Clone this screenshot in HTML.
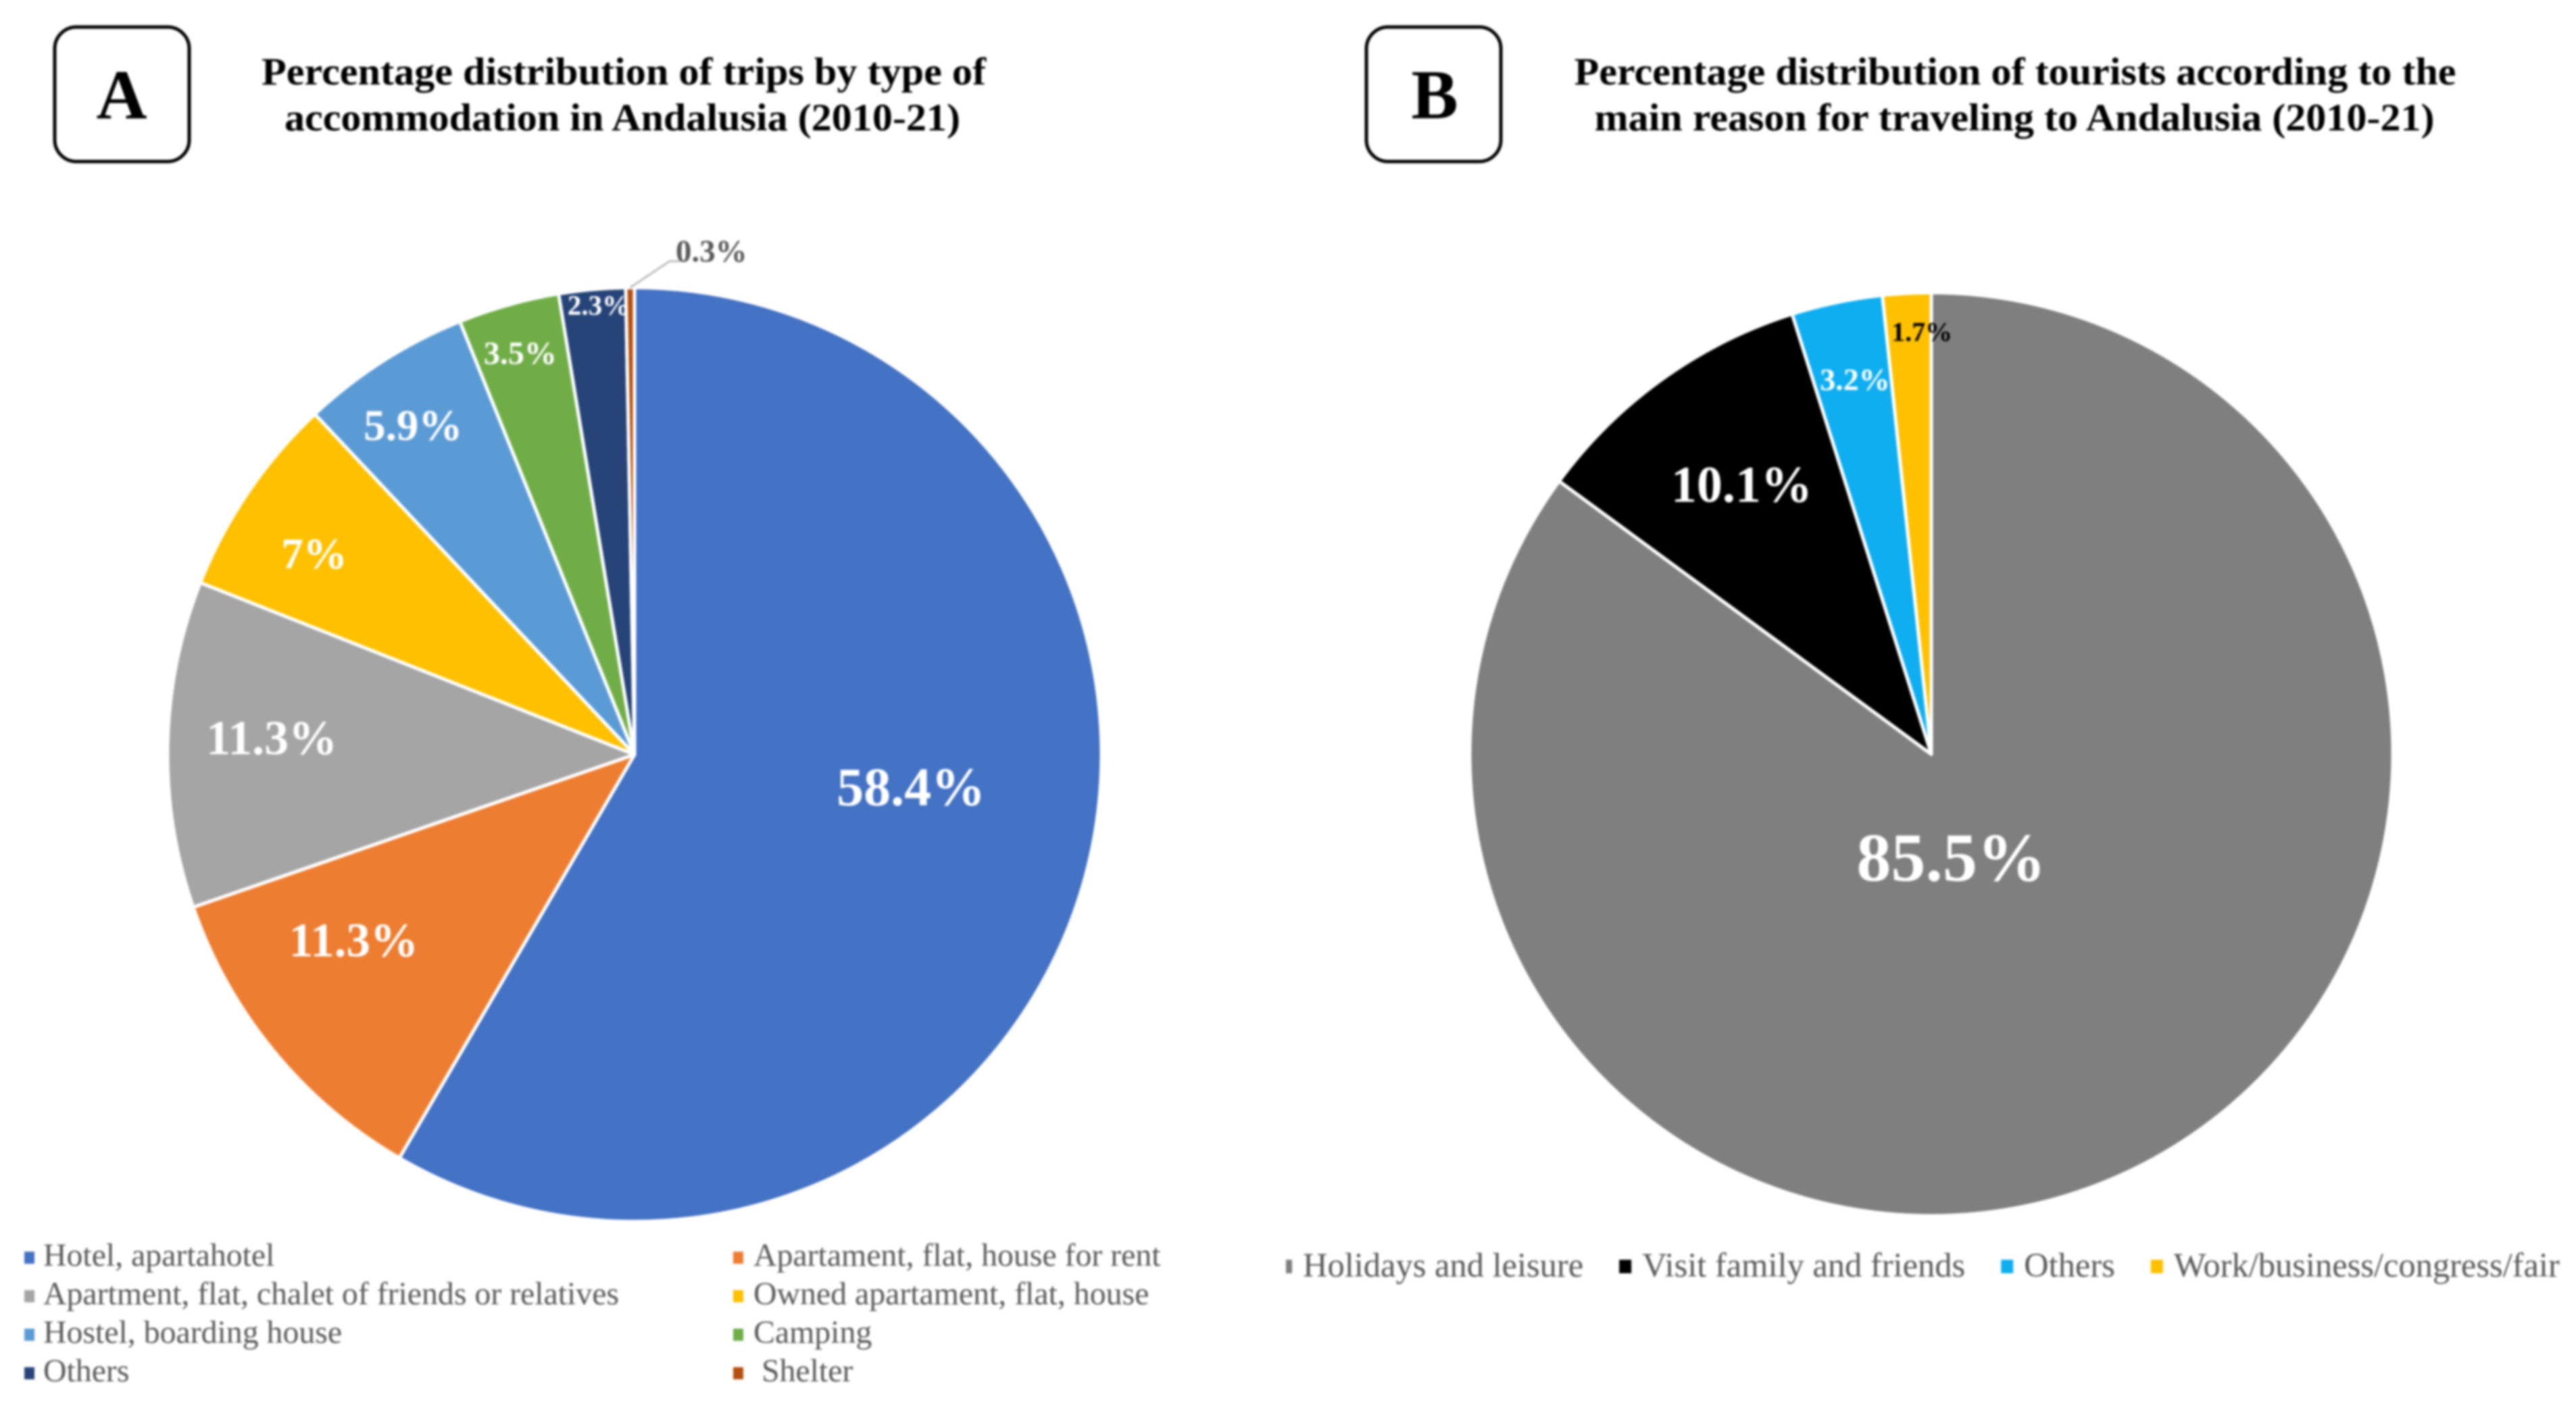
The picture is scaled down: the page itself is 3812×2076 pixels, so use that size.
<!DOCTYPE html>
<html lang="en">
<head>
<meta charset="utf-8">
<title>Percentage distribution of trips and tourists in Andalusia</title>
<style>
html,body{margin:0;padding:0;background:#fff;}
svg{display:block;filter:blur(1.5px);}
text{font-family:"Liberation Serif",serif;white-space:pre;}
.title{font-size:57px;font-weight:bold;fill:#000;text-anchor:middle;}
.panel{font-size:104px;font-weight:bold;fill:#000;text-anchor:middle;}
.legend-a{font-size:47.8px;fill:#595959;}
.legend-b{font-size:50.5px;fill:#595959;}
.value{font-weight:bold;text-anchor:middle;}
</style>
</head>
<body>
<svg id="chart" xmlns="http://www.w3.org/2000/svg" width="3812" height="2076" viewBox="0 0 3812 2076">
  <rect width="3812" height="2076" fill="#ffffff"/>
  <rect x="81" y="40" width="199" height="199" rx="32" fill="none" stroke="#000" stroke-width="5"/>
  <text class="panel" x="180" y="175">A</text>
  <text class="title" x="923" y="125" textLength="1072" lengthAdjust="spacingAndGlyphs">Percentage distribution of trips by type of</text>
  <text class="title" x="921" y="193" textLength="1000" lengthAdjust="spacingAndGlyphs">accommodation in Andalusia (2010-21)</text>
  <rect x="2022" y="40" width="199" height="199" rx="32" fill="none" stroke="#000" stroke-width="5"/>
  <text class="panel" x="2123" y="175">B</text>
  <text class="title" x="2982" y="125" textLength="1305" lengthAdjust="spacingAndGlyphs">Percentage distribution of tourists according to the</text>
  <text class="title" x="2981" y="193" textLength="1243" lengthAdjust="spacingAndGlyphs">main reason for traveling to Andalusia (2010-21)</text>
</svg>
<script>
const categoriesA = ['Hotel, apartahotel', 'Apartament, flat, house for rent', 'Apartment, flat, chalet of friends or relatives', 'Owned apartament, flat, house', 'Hostel, boarding house', 'Camping', 'Others', ' Shelter'];
const valuesA = [58.4, 11.3, 11.3, 7, 5.9, 3.5, 2.3, 0.3];
const printedA = ['58.4%', '11.3%', '11.3%', '7%', '5.9%', '3.5%', '2.3%', '0.3%'];
const colorsA = ['#4472C4', '#ED7D31', '#A5A5A5', '#FFC000', '#5B9BD5', '#70AD47', '#264478', '#B4500F'];

const categoriesB = ['Holidays and leisure', 'Visit family and friends', 'Others', 'Work/business/congress/fair'];
const valuesB = [85.5, 10.1, 3.2, 1.7];
const printedB = ['85.5%', '10.1%', '3.2%', '1.7%'];
const colorsB = ['#7F7F7F', '#000000', '#0FAEF0', '#FFC000'];

const NS = 'http://www.w3.org/2000/svg';
const svg = document.getElementById('chart');

function slug(s) {
  return s.trim().toLowerCase().replace(/[^a-z0-9]+/g, '-');
}

function make(tag, attrs, text) {
  const el = document.createElementNS(NS, tag);
  for (const k in attrs) el.setAttribute(k, attrs[k]);
  if (text !== undefined) el.textContent = text;
  svg.appendChild(el);
  return el;
}

function angleAxis(value, total) {
  return value / total * Math.PI * 2;
}

function polar(cx, cy, r, a) {
  return [cx + r * Math.sin(a), cy - r * Math.cos(a)];
}

function drawPie(prefix, cats, vals, printed, colors, geom, layout) {
  const total = vals.reduce((a, b) => a + b, 0);
  let running = 0;
  const mids = [];
  vals.forEach((v, i) => {
    const a0 = angleAxis(running, total);
    const a1 = angleAxis(running + v, total);
    const p0 = polar(geom.cx, geom.cy, geom.r, a0);
    const p1 = polar(geom.cx, geom.cy, geom.r, a1);
    const large = a1 - a0 > Math.PI ? 1 : 0;
    const slice = make('path', {
      d: 'M' + geom.cx + ' ' + geom.cy + 'L' + p0[0] + ' ' + p0[1] + 'A' + geom.r + ' ' + geom.r + ' 0 ' + large + ' 1 ' + p1[0] + ' ' + p1[1] + 'Z',
      fill: colors[i], stroke: '#ffffff', 'stroke-width': 5, 'stroke-linejoin': 'round'
    });
    
    
    mids.push((a0 + a1) / 2);
    running += v;
  });
  printed.forEach((label, i) => {
    const spec = layout[i];
    const a = mids[i] + spec.nudge * Math.PI / 180;
    const p = polar(geom.cx, geom.cy, geom.r * spec.radius, a);
    if (spec.leader) {
      const edge = polar(geom.cx, geom.cy, geom.r, mids[i]);
      const line = make('polyline', {
        points: edge[0] + ',' + edge[1] + ' ' + (p[0] - 59) + ',' + (p[1] + 15) + ' ' + (p[0] - 44) + ',' + (p[1] + 15),
        fill: 'none', stroke: '#bdbdbd', 'stroke-width': 3
      });
      
      
    }
    const t = make('text', {
      class: 'value', x: p[0] + 3, y: p[1] + spec.size * 0.33, fill: spec.color, 'font-size': spec.size
    }, label);
    
    
  });
}

drawPie('chart-a', categoriesA, valuesA, printedA, colorsA, {cx: 939, cy: 1116.5, r: 691}, [
  {nudge: -8.3, radius: 0.592, size: 80, color: '#ffffff'},
  {nudge: 6.1, radius: 0.725, size: 71, color: '#ffffff'},
  {nudge: 1.3, radius: 0.782, size: 72, color: '#ffffff'},
  {nudge: -2.3, radius: 0.813, size: 65, color: '#ffffff'},
  {nudge: -1.6, radius: 0.852, size: 65, color: '#ffffff'},
  {nudge: -0.5, radius: 0.895, size: 48, color: '#ffffff'},
  {nudge: 0.4, radius: 0.965, size: 41, color: '#ffffff'},
  {nudge: 9, radius: 1.09, size: 47, color: '#595959', leader: true}
]);

drawPie('chart-b', categoriesB, valuesB, printedB, colorsB, {cx: 2858, cy: 1116, r: 683}, [
  {nudge: 17, radius: 0.228, size: 102, color: '#ffffff'},
  {nudge: 0.2, radius: 0.716, size: 76, color: '#ffffff'},
  {nudge: 0, radius: 0.829, size: 46, color: '#ffffff'},
  {nudge: 1.5, radius: 0.915, size: 40, color: '#000000'}
]);

categoriesA.forEach((c, i) => {
  const col = i % 2;
  const row = Math.floor(i / 2);
  const mx = col === 0 ? 36 : 1085;
  const cy = 1861 + row * 57;
  const marker = make('rect', {x: mx, y: cy - 9, width: 15, height: 18, fill: colorsA[i]});
  
  
  const t = make('text', {class: 'legend-a', x: mx + (col === 0 ? 28 : 30), y: cy + 12}, c);
  
  
});

let flowX = 1928;
categoriesB.forEach((c, i) => {
  const w = i === 0 ? 9 : 18;
  const mx = i === 0 ? flowX - 25 : flowX - 34;
  const marker = make('rect', {x: mx, y: 1864, width: w, height: 20, fill: colorsB[i]});
  
  
  const t = make('text', {class: 'legend-b', x: flowX, y: 1889}, c);
  
  
  flowX += t.getComputedTextLength() + 87;
});
</script>
</body>
</html>
